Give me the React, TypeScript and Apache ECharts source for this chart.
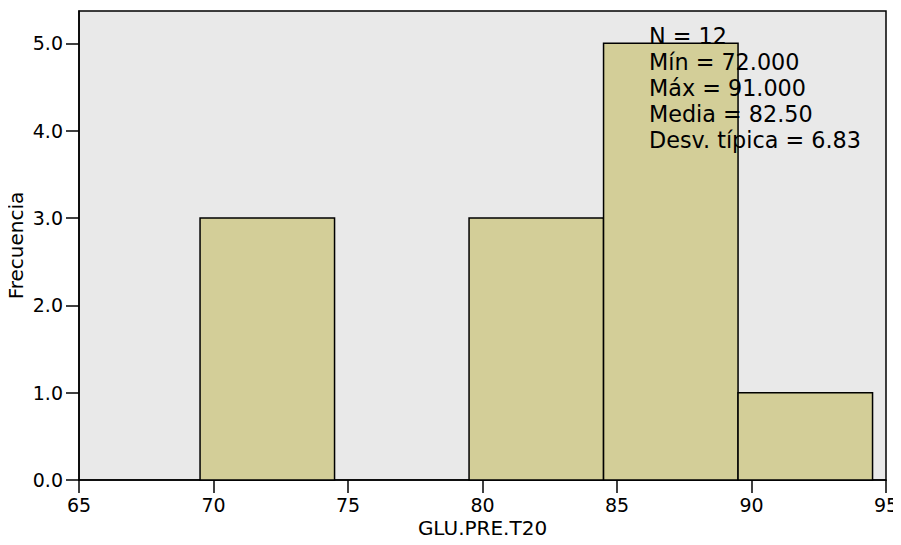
import React, { useEffect, useRef } from "react";
import * as echarts from "echarts";

const binCenters = [72, 82, 87, 92];
const counts = [3, 3, 5, 1];
const binWidth = 5;
const yTicks = [0, 1, 2, 3, 4, 5];
const xTicks = [65, 70, 75, 80, 85, 90, 95];
const statsLines = ["N = 12", "Mín = 72.000", "Máx = 91.000", "Media = 82.50", "Desv. típica = 6.83"];

export default function App() {
  const ref = useRef<HTMLDivElement>(null);
  useEffect(() => {
    if (!ref.current) return;
    const chart = echarts.init(ref.current, null, { renderer: "svg" });
    const font = "DejaVu Sans";
    const data = binCenters.map((c, i) => [c - binWidth / 2, c + binWidth / 2, counts[i]]);
    chart.setOption({
      animation: false,
      grid: {
        left: 79,
        right: 15,
        top: 11,
        bottom: 65,
        containLabel: false,
        outerBoundsMode: "none",
        show: true,
        backgroundColor: "#e9e9e9",
        borderColor: "#000",
        borderWidth: 1.5,
      },
      xAxis: {
        type: "value",
        min: 65,
        max: 95,
        interval: 5,
        name: "GLU.PRE.T20",
        nameLocation: "middle",
        nameGap: 38,
        nameMoveOverlap: false,
        nameTextStyle: { fontFamily: font, fontSize: 20, color: "#000" },
        axisLine: { show: true, onZero: false, lineStyle: { color: "#000", width: 1.5 } },
        axisTick: { show: true, length: 13, lineStyle: { color: "#000", width: 1.5 }, customValues: xTicks },
        axisLabel: { fontFamily: font, fontSize: 19, color: "#000", margin: 15, customValues: xTicks },
        splitLine: { show: false },
      },
      yAxis: {
        type: "value",
        min: 0,
        max: 5.37,
        interval: 1,
        name: "Frecuencia",
        nameLocation: "middle",
        nameGap: 53,
        nameMoveOverlap: false,
        nameTextStyle: { fontFamily: font, fontSize: 20, color: "#000" },
        axisLine: { show: true, lineStyle: { color: "#000", width: 1.5 } },
        axisTick: { show: true, length: 13, lineStyle: { color: "#000", width: 1.5 }, customValues: yTicks },
        axisLabel: {
          fontFamily: font,
          fontSize: 19,
          color: "#000",
          margin: 16,
          customValues: yTicks,
          formatter: (v: number) => v.toFixed(1),
        },
        splitLine: { show: false },
      },
      series: [
        {
          type: "custom",
          data,
          encode: { x: [0, 1], y: 2 },
          renderItem: (params: any, api: any) => {
            const p0 = api.coord([api.value(0), api.value(2)]);
            const p1 = api.coord([api.value(1), 0]);
            return {
              type: "rect",
              shape: { x: p0[0], y: p0[1], width: p1[0] - p0[0], height: p1[1] - p0[1] },
              style: { fill: "#d3ce98", stroke: "#000", lineWidth: 1.5 },
            };
          },
        },
      ],
      graphic: [
        {
          type: "text",
          left: 649,
          top: 23,
          z: 100,
          style: { text: statsLines.join("\n"), fontFamily: font, fontSize: 22.3, fill: "#000", lineHeight: 26 },
        },
      ],
    });
    return () => chart.dispose();
  }, []);
  return <div ref={ref} style={{ width: 901, height: 545, marginLeft: -8, marginTop: -8 }} />;
}
